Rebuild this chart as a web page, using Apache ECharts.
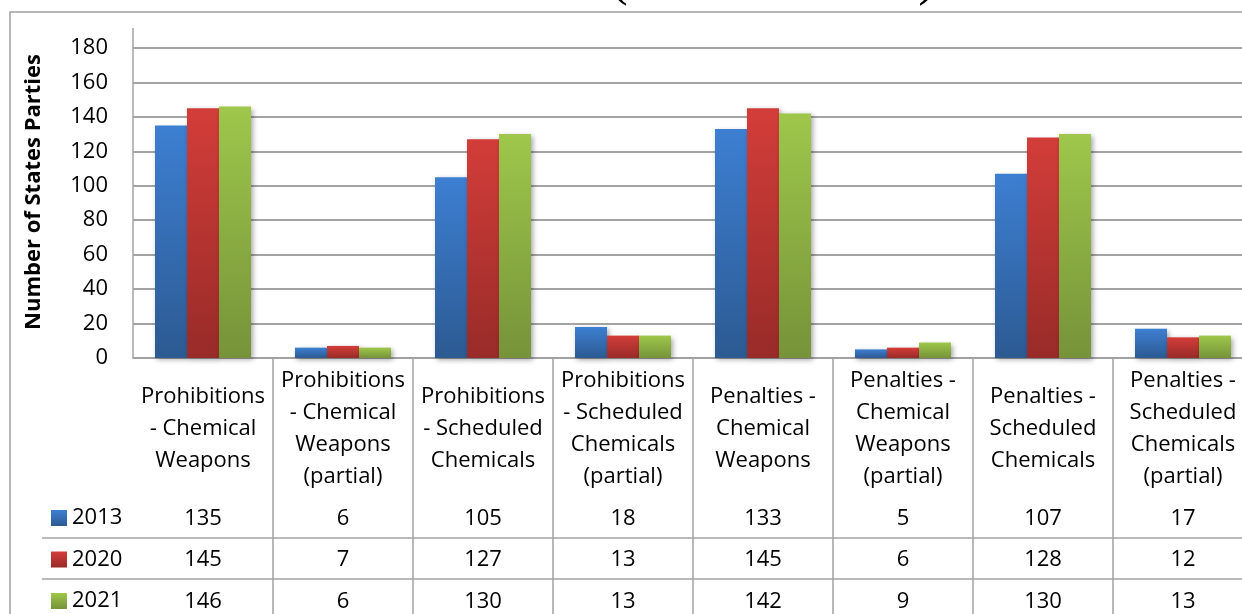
<!DOCTYPE html>
<html>
<head>
<meta charset="utf-8">
<title>Number of States Parties</title>
<script src="https://cdn.jsdelivr.net/npm/echarts@6/dist/echarts.min.js"></script>
<style>
  html, body { margin: 0; padding: 0; background: #ffffff; }
  #chart { width: 1242px; height: 614px; }
</style>
</head>
<body>
<div id="chart"></div>
<script>
// Category labels (line breaks as printed in the table header)
const categories = [
  'Prohibitions\n- Chemical\nWeapons',
  'Prohibitions\n- Chemical\nWeapons\n(partial)',
  'Prohibitions\n- Scheduled\nChemicals',
  'Prohibitions\n- Scheduled\nChemicals\n(partial)',
  'Penalties -\nChemical\nWeapons',
  'Penalties -\nChemical\nWeapons\n(partial)',
  'Penalties -\nScheduled\nChemicals',
  'Penalties -\nScheduled\nChemicals\n(partial)'
];

const years = ['2013', '2020', '2021'];

const values2013 = [135, 6, 105, 18, 133, 5, 107, 17];
const values2020 = [145, 7, 127, 13, 145, 6, 128, 12];
const values2021 = [146, 6, 130, 13, 142, 9, 130, 13];

const yTicks = { min: 0, max: 180, interval: 20 };

const FONT = '"Open Sans", "Noto Sans", sans-serif';
const GRID_GRAY = '#a3a3a3';

function grad(top, bottom) {
  return new echarts.graphic.LinearGradient(0, 0, 0, 1, [
    { offset: 0, color: top },
    { offset: 1, color: bottom }
  ]);
}

const seriesColors = [
  grad('#3d7fd2', '#2c5a92'),
  grad('#d33d39', '#982b28'),
  grad('#9ec74b', '#769339')
];

const allValues = [values2013, values2020, values2021];

const chart = echarts.init(document.getElementById('chart'), null, { renderer: 'canvas' });

const barShadow = {
  shadowColor: 'rgba(0,0,0,0.35)',
  shadowBlur: 5,
  shadowOffsetX: 2,
  shadowOffsetY: 2
};

chart.setOption({
  animation: false,
  backgroundColor: '#ffffff',
  grid: {
    left: 133, top: 48, width: 1120, height: 310,
    containLabel: false,
    outerBoundsMode: 'none'
  },
  legend: {
    data: years,
    orient: 'vertical',
    left: 51,
    top: 507,
    padding: 0,
    itemWidth: 16,
    itemHeight: 16,
    itemGap: 19.5,
    icon: 'rect',
    textStyle: { fontFamily: FONT, fontSize: 22, color: '#000', lineHeight: 22 }
  },
  xAxis: [
    {
      type: 'category',
      data: categories,
      axisLine: { lineStyle: { color: GRID_GRAY, width: 1.5 } },
      axisTick: {
        show: true,
        length: 262,
        interval: function (i) { return i > 0; },
        lineStyle: { color: GRID_GRAY, width: 1.5 }
      },
      axisLabel: {
        interval: 0,
        margin: 71,
        verticalAlign: 'middle',
        lineHeight: 32,
        fontFamily: FONT,
        fontSize: 22,
        color: '#000'
      }
    },
    {
      // data table rows: one line per year under each category
      type: 'category',
      data: categories,
      position: 'bottom',
      axisLine: { show: false },
      axisTick: { show: false },
      axisLabel: {
        interval: 0,
        margin: 202,
        verticalAlign: 'middle',
        lineHeight: 41.5,
        fontFamily: FONT,
        fontSize: 22,
        color: '#000',
        formatter: function (v, i) {
          return allValues.map(function (arr) { return String(arr[i]); }).join('\n');
        }
      }
    }
  ],
  yAxis: {
    type: 'value',
    min: yTicks.min,
    max: yTicks.max,
    interval: yTicks.interval,
    name: 'Number of States Parties',
    nameLocation: 'middle',
    nameRotate: 90,
    nameGap: 88,
    nameTextStyle: {
      fontFamily: FONT,
      fontSize: 22,
      fontWeight: 'bold',
      color: '#000',
      padding: [0, 0, 0, 22]
    },
    axisLine: { show: true, lineStyle: { color: GRID_GRAY, width: 1.5 } },
    axisTick: { show: false },
    axisLabel: { margin: 25, fontFamily: FONT, fontSize: 22, color: '#000' },
    splitLine: { lineStyle: { color: GRID_GRAY, width: 2 } }
  },
  series: years.map(function (y, k) {
    return {
      name: y,
      type: 'bar',
      xAxisIndex: 0,
      barWidth: 32,
      barGap: '0%',
      data: allValues[k],
      itemStyle: Object.assign({ color: seriesColors[k] }, barShadow)
    };
  }),
  graphic: [
    // chart frame
    {
      type: 'rect', silent: true, z: 0,
      shape: { x: 10, y: 12, width: 1400, height: 800 },
      style: { fill: 'none', stroke: '#a0a0a0', lineWidth: 1.5 }
    },
    // value axis line continues above the top gridline
    {
      type: 'line', silent: true,
      shape: { x1: 133, y1: 28, x2: 133, y2: 48 },
      style: { stroke: GRID_GRAY, lineWidth: 1.5 }
    },
    // data table row separators
    {
      type: 'line', silent: true,
      shape: { x1: 42, y1: 538, x2: 1242, y2: 538 },
      style: { stroke: GRID_GRAY, lineWidth: 1.5 }
    },
    {
      type: 'line', silent: true,
      shape: { x1: 42, y1: 579, x2: 1242, y2: 579 },
      style: { stroke: GRID_GRAY, lineWidth: 1.5 }
    },
    // heading (runs off the top edge)
    {
      type: 'text', silent: true,
      x: 773, y: 7,
      style: {
        text: '(2013 to 2021)',
        font: '55px "Liberation Serif", "DejaVu Serif", serif',
        fill: '#000',
        textAlign: 'center',
        textVerticalAlign: 'bottom'
      }
    }
  ]
});
</script>
</body>
</html>
